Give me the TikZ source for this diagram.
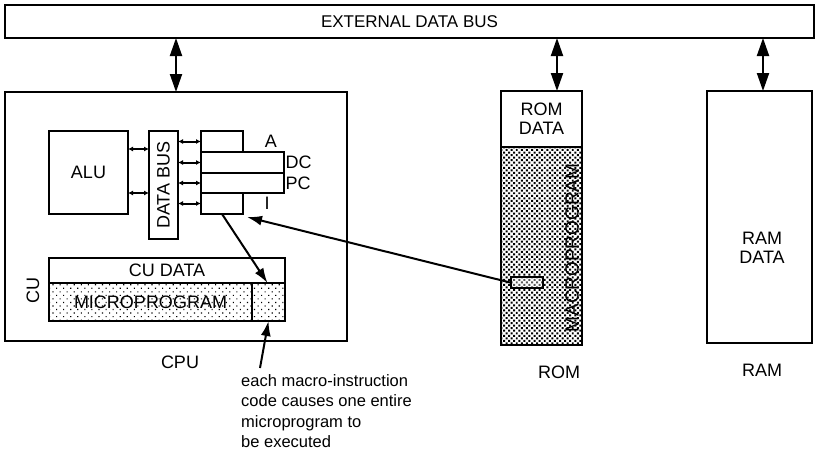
\documentclass[tikz,border=0pt]{standalone}
\usepackage{fontspec}
\setmainfont{Liberation Sans}
\usetikzlibrary{arrows.meta,patterns.meta,calc}
\begin{document}
\begin{tikzpicture}[x=1pt,y=-1pt,
  every node/.style={font=\fontsize{18}{20}\selectfont},
  box/.style={draw,line width=2.2pt,inner sep=0pt,outer sep=0pt},
  ibox/.style={draw,line width=2pt,inner sep=0pt,outer sep=0pt},
  lbl/.style={inner sep=0pt},
  bidir/.style={line width=2pt,{Triangle[length=18pt,width=12pt]}-{Triangle[length=18pt,width=12pt]}},
  conn/.style={line width=2pt,{Latex[length=5pt,width=5pt]}-{Latex[length=5pt,width=5pt]}},
  ptr/.style={line width=2pt,-{Latex[length=15pt,width=10pt]}},
  microfill/.style={pattern={Dots[distance=5pt,angle=45,radius=0.8pt]}},
  macrofill/.style={pattern={Dots[distance=3.6pt,angle=45,radius=1.4pt]}}
]
\useasboundingbox (0,0) rectangle (817,458);

% external bus
\node[box,minimum width=809,minimum height=33,font=\fontsize{17}{19}\selectfont] (bus) at (409.5,21.5) {EXTERNAL DATA BUS};

% CPU
\node[box,minimum width=342,minimum height=249] (cpu) at (176,216.5) {};
\node[lbl] (cpulbl) at (180,362) {CPU};
\node[ibox,minimum width=79,minimum height=83] (alu) at (88.5,172.5) {ALU};
\node[ibox,minimum width=29,minimum height=108] (dbus) at (163.5,185) {\rotatebox{90}{DATA BUS}};

\node[ibox,minimum width=42,minimum height=21] (regA) at (222,141.5) {};
\node[ibox,minimum width=83,minimum height=21] (regDC) at (242.5,162.5) {};
\node[ibox,minimum width=83,minimum height=20] (regPC) at (242.5,183) {};
\node[ibox,minimum width=42,minimum height=21] (regI) at (222,203.5) {};
\node[lbl] (lA) at (271,141) {A};
\node[lbl,anchor=west] (lDC) at (285.5,162.5) {DC};
\node[lbl,anchor=west] (lPC) at (285.5,183) {PC};
\node[lbl] (lI) at (267,203) {I};

\draw[conn] ([yshift=23.5]alu.east) -- ([yshift=23.5]alu.east -| dbus.west);
\draw[conn] ([yshift=-20.5]alu.east) -- ([yshift=-20.5]alu.east -| dbus.west);
\draw[conn] (dbus.east |- regA.west) -- (regA.west);
\draw[conn] (dbus.east |- regDC.west) -- (regDC.west);
\draw[conn] (dbus.east |- regPC.west) -- (regPC.west);
\draw[conn] (dbus.east |- regI.west) -- (regI.west);

% CU
\node[ibox,minimum width=236,minimum height=25] (cudata) at (167,270.5) {CU DATA};
\node[ibox,microfill,minimum width=203,minimum height=38] (micro) at (150.5,302) {};
\node[lbl] at (micro.center) {MICROPROGRAM};
\node[ibox,microfill,minimum width=33,minimum height=38] (microsel) at (268.5,302) {};
\node[lbl,rotate=90] (culbl) at (33,290) {CU};

% ROM
\node[box,minimum width=81,minimum height=254] (rom) at (541.5,218) {};
\node[ibox,minimum width=81,minimum height=56,align=center] (romdata) at (541.5,119) {ROM\\[-1pt]DATA};
\node[ibox,macrofill,minimum width=81,minimum height=198] (macro) at (541.5,246) {};
\draw[box] (rom.north west) rectangle (rom.south east);
\node[lbl,rotate=90,font=\fontsize{19}{20}\selectfont] (macrolbl) at (572,248) {MACROPROGRAM};
\node[draw,line width=1.6pt,fill=white,fill opacity=0.35,draw opacity=1,inner sep=0pt,minimum width=32,minimum height=11] (macrosel) at (527,282.5) {};
\node[lbl] (romlbl) at (559,372) {ROM};

% RAM
\node[box,minimum width=105,minimum height=252] (ram) at (759.5,217) {};
\node[lbl,align=center] (ramdata) at (762,248) {RAM\\[-1pt]DATA};
\node[lbl] (ramlbl) at (762,370) {RAM};

% bus arrows
\draw[bidir] (bus.south -| cpu.north) -- (cpu.north);
\draw[bidir] ([xshift=15.5]bus.south -| rom.north) -- ([xshift=15.5]rom.north);
\draw[bidir] ([xshift=3.5]bus.south -| ram.north) -- ([xshift=3.5]ram.north);

% pointers
\draw[ptr] (regI.south) -- ([xshift=-1]microsel.north);
\draw[ptr] (macrosel.west) -- ([xshift=4,yshift=-3]regI.south east);

% note
\node[lbl,anchor=north west,align=left,font=\fontsize{16.5}{20.5}\selectfont] (note) at (241,374) {each macro-instruction\\code causes one entire\\microprogram to\\be executed};
\coordinate (notetail) at (260,368);
\draw[ptr] (notetail) -- (microsel.south);
\end{tikzpicture}
\end{document}
